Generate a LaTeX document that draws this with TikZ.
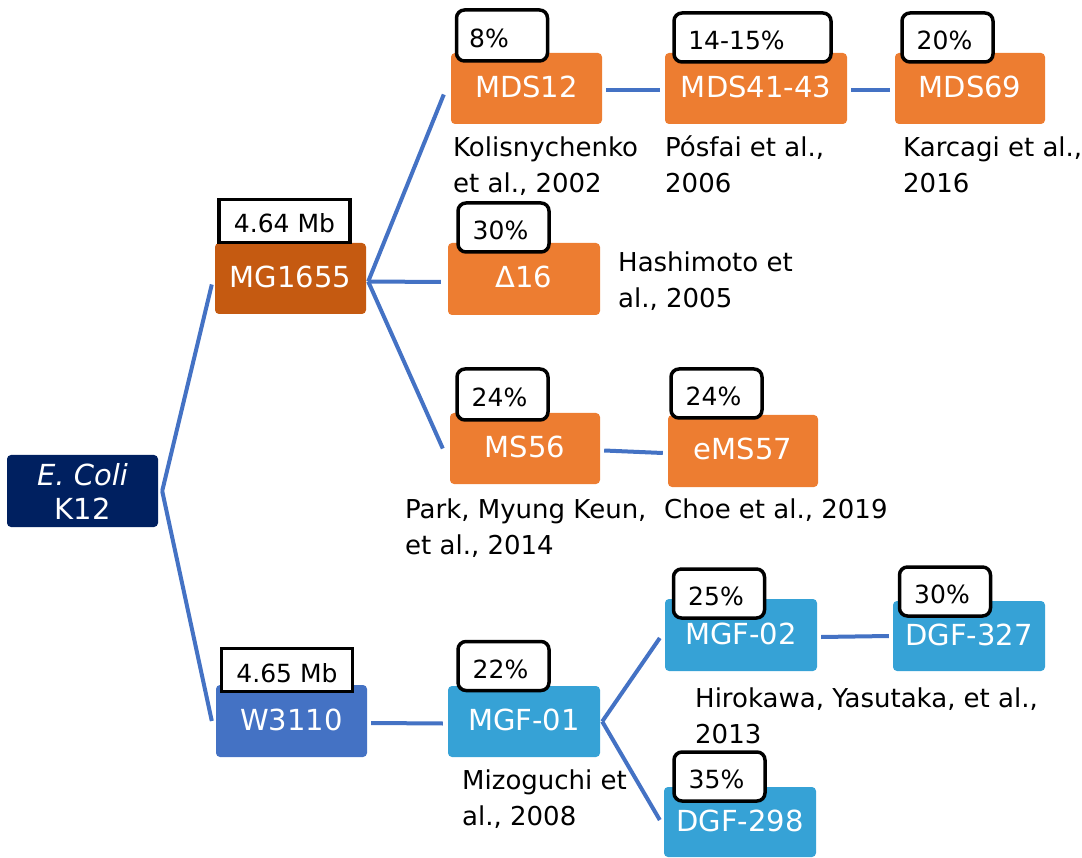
\documentclass[tikz,border=0pt]{standalone}
\usepackage{fontspec}
\setmainfont{DejaVu Sans}
\definecolor{navy}{HTML}{002060}
\definecolor{rust}{HTML}{C55A11}
\definecolor{orng}{HTML}{ED7D31}
\definecolor{mblue}{HTML}{4472C4}
\definecolor{lblue}{HTML}{36A2D6}
\definecolor{lnk}{HTML}{4472C4}
\tikzset{
  basebox/.style={rectangle, rounded corners=4pt, minimum width=151pt, minimum height=71pt,
    text=white, font=\fontsize{29}{34}\selectfont, inner sep=0pt},
  box/.style={basebox, text height=21pt, text depth=3pt},
  pct/.style={rectangle, draw=black, line width=3.5pt, rounded corners=8pt, fill=white,
    minimum width=91pt, minimum height=49pt, inner sep=0pt, text height=24pt, text depth=0pt,
    font=\fontsize{25}{30}\selectfont, execute at end node={\hspace*{6pt}}},
  mb/.style={rectangle, draw=black, line width=3.5pt, fill=white,
    minimum width=131pt, minimum height=43pt, inner sep=0pt, text height=24pt, text depth=0pt,
    font=\fontsize{25}{30}\selectfont},
  cite/.style={anchor=base west, align=left, inner sep=0pt, font=\fontsize{26}{36}\selectfont},
  link/.style={draw=lnk, line width=4pt}
}
\begin{document}
\begin{tikzpicture}[x=1pt,y=-1pt]
\useasboundingbox (0,0) rectangle (1082,858);
% main boxes
\node[basebox, fill=navy, align=center, minimum height=72pt] (ecoli) at (82.5,491) {\textit{E. Coli}\\K12};
\node[box, fill=rust] (mg) at (290.5,278.5) {MG1655};
\node[box, fill=orng] (mds12) at (526.5,88.5) {MDS12};
\node[box, fill=orng, minimum width=182pt] (mds41) at (756,88.5) {MDS41-43};
\node[box, fill=orng, minimum width=150pt] (mds69) at (970,88.5) {MDS69};
\node[box, fill=orng, minimum width=152pt, minimum height=72pt] (d16) at (524,279) {Δ16};
\node[box, fill=orng, minimum width=150pt] (ms56) at (525,448.5) {MS56};
\node[box, fill=orng, minimum width=150pt, minimum height=72pt] (ems57) at (743,451) {eMS57};
\node[box, fill=mblue, minimum height=72pt] (w3110) at (291.5,721) {W3110};
\node[box, fill=lblue, minimum width=152pt] (mgf01) at (524,721.5) {MGF-01};
\node[box, fill=lblue, minimum width=152pt, minimum height=72pt] (mgf02) at (741,635) {MGF-02};
\node[box, fill=lblue, minimum width=152pt, minimum height=70pt] (dgf327) at (969,636) {DGF-327};
\node[box, fill=lblue, minimum width=152pt, minimum height=70pt] (dgf298) at (740,822) {DGF-298};
% connectors
\draw[link] ([xshift=4pt]ecoli.east) -- ([xshift=-3pt,yshift=-6pt]mg.west);
\draw[link] ([xshift=4pt]ecoli.east) -- ([xshift=-4pt]w3110.west);
\draw[link] ([xshift=2pt,yshift=-3pt]mg.east) -- ([xshift=-7pt,yshift=-6pt]mds12.west);
\draw[link] ([xshift=2pt,yshift=-3pt]mg.east) -- ([xshift=-7pt,yshift=-3pt]d16.west);
\draw[link] ([xshift=2pt,yshift=-3pt]mg.east) -- ([xshift=-7pt]ms56.west);
\draw[link] ([xshift=4pt,yshift=-2pt]mds12.east) -- ([xshift=-5pt,yshift=-2pt]mds41.west);
\draw[link] ([xshift=4pt,yshift=-2pt]mds41.east) -- ([xshift=-5pt,yshift=-2pt]mds69.west);
\draw[link] ([xshift=4pt,yshift=-2pt]ms56.east) -- ([xshift=-5pt,yshift=-2pt]ems57.west);
\draw[link] ([xshift=4pt,yshift=-2pt]w3110.east) -- ([xshift=-5pt,yshift=-2pt]mgf01.west);
\draw[link] ([xshift=2pt]mgf01.east) -- ([xshift=-5pt,yshift=-3pt]mgf02.west);
\draw[link] ([xshift=2pt]mgf01.east) -- ([xshift=-4pt,yshift=2pt]dgf298.west);
\draw[link] ([xshift=4pt,yshift=-2pt]mgf02.east) -- ([xshift=-4pt]dgf327.west);
% value labels
\node[mb] (lmg) at (284.5,221) {4.64 Mb};
\node[mb] (lw) at (287,670) {4.65 Mb};
\node[pct, minimum height=51pt] (l12) at (502,35.5) {8\%\hspace*{20pt}};
\node[pct, minimum width=157pt] (l41) at (752.5,37.5) {14-15\%\hspace*{26pt}};
\node[pct] (l69) at (947.5,37.5) {20\%};
\node[pct] (l16) at (503.5,227.5) {30\%};
\node[pct, minimum height=51pt] (l56) at (502.5,394.5) {24\%};
\node[pct] (l57) at (716.5,393.5) {24\%};
\node[pct] (l01) at (503.5,666) {22\%};
\node[pct] (l02) at (719,593.5) {25\%};
\node[pct] (l327) at (945,591.5) {30\%};
\node[pct] (l298) at (719.5,776.5) {35\%};
% citations (anchor = baseline of last line)
\node[cite] (c12) at (453,193) {Kolisnychenko\\et al., 2002};
\node[cite] (c41) at (665,193) {Pósfai et al.,\\2006};
\node[cite] (c69) at (903,193) {Karcagi et al.,\\2016};
\node[cite] (c16) at (618,308) {Hashimoto et\\al., 2005};
\node[cite] (c56) at (405,554) {Park, Myung Keun,\\et al., 2014};
\node[cite] (c57) at (664,518) {Choe et al., 2019};
\node[cite] (c01) at (462,825) {Mizoguchi et\\al., 2008};
\node[cite] (c02) at (695,743) {Hirokawa, Yasutaka, et al.,\\2013};
\end{tikzpicture}
\end{document}
